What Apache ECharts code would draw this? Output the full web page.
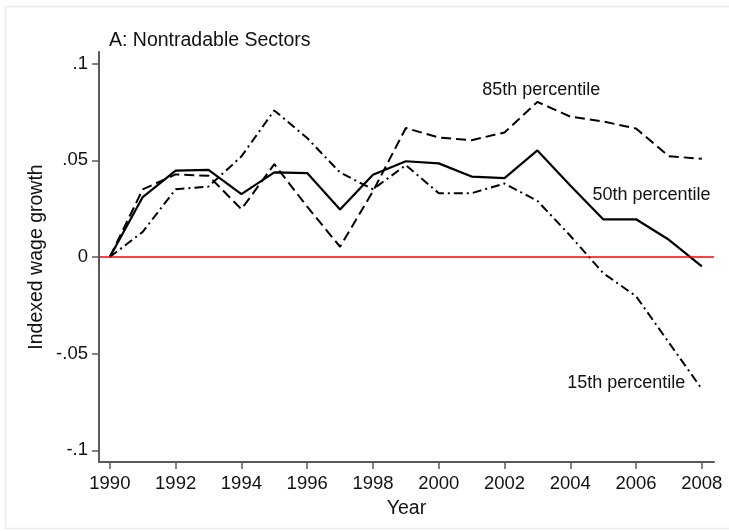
<!DOCTYPE html>
<html>
<head>
<meta charset="utf-8">
<script src="https://cdn.jsdelivr.net/npm/echarts@6/dist/echarts.min.js"></script>
<style>
  html, body { margin: 0; padding: 0; background: #fff; }
  #chart { width: 729px; height: 531px; }
</style>
</head>
<body>
<div id="chart"></div>
<script>
  // 数据
  var years = [1990, 1991, 1992, 1993, 1994, 1995, 1996, 1997, 1998, 1999,
               2000, 2001, 2002, 2003, 2004, 2005, 2006, 2007, 2008]
  var p85 = [0, 0.035, 0.0427, 0.042, 0.0247, 0.048, 0.026, 0.0053, 0.034, 0.0667,
             0.0618, 0.0604, 0.0644, 0.0802, 0.0726, 0.0701, 0.0664, 0.0521, 0.0508]
  var p50 = [0, 0.031, 0.0447, 0.045, 0.0325, 0.0438, 0.0434, 0.0246, 0.0425, 0.0495,
             0.0484, 0.0416, 0.0408, 0.0551, 0.037, 0.0195, 0.0195, 0.0089, -0.0048]
  var p15 = [0, 0.013, 0.035, 0.0364, 0.052, 0.0758, 0.0615, 0.0437, 0.035, 0.0475,
             0.033, 0.033, 0.038, 0.029, 0.011, -0.0083, -0.0203, -0.0443, -0.0683]
  var xTicks = [1990, 1992, 1994, 1996, 1998, 2000, 2002, 2004, 2006, 2008]
  var yTicks = [-0.1, -0.05, 0, 0.05, 0.1]
  var yTickText = { '-0.1': '-.1', '-0.05': '-.05', '0': '0', '0.05': '.05', '0.1': '.1' }
  var seriesNames = ['85th percentile', '50th percentile', '15th percentile']
  // 标注文字所在的数据坐标
  var labelAt = [[2003.12, 0.0865], [2006.47, 0.0321], [2005.7, -0.0653]]

  var FONT = '"Liberation Sans", Arial, sans-serif'
  var INK = '#111'
  var AXIS = '#5a5a5a'

  function pairs(vals) {
    var out = []
    for (var i = 0; i < years.length; i++) out.push([years[i], vals[i]])
    return out
  }

  function tag(i) {
    return {
      symbol: 'circle',
      symbolSize: 0,
      silent: true,
      label: {
        show: true,
        position: 'inside',
        formatter: seriesNames[i],
        color: INK,
        fontFamily: FONT,
        fontSize: 18
      },
      data: [{ coord: labelAt[i] }]
    }
  }

  var chart = echarts.init(document.getElementById('chart'), null, { renderer: 'canvas' })

  var option = {
    backgroundColor: '#fff',
    animation: false,
    textStyle: { fontFamily: FONT },
    graphic: [
      {
        type: 'rect',
        silent: true,
        shape: { x: 5.5, y: 6.5, width: 800, height: 522 },
        style: { fill: 'none', stroke: '#ebebeb', lineWidth: 1.5 }
      }
    ],
    title: {
      text: 'A: Nontradable Sectors',
      left: 104,
      top: 26,
      textStyle: { color: INK, fontFamily: FONT, fontSize: 19.5, fontWeight: 'normal' }
    },
    grid: { left: 99, right: 15, top: 52, bottom: 69 },
    xAxis: {
      type: 'value',
      min: 1989.67,
      max: 2008.37,
      name: 'Year',
      nameLocation: 'middle',
      nameGap: 37,
      nameMoveOverlap: false,
      nameTextStyle: { color: INK, fontFamily: FONT, fontSize: 19.5 },
      splitLine: { show: false },
      axisLine: { onZero: false, lineStyle: { color: AXIS, width: 2 } },
      axisTick: { show: true, length: 7, lineStyle: { color: AXIS, width: 1.5 }, customValues: xTicks },
      axisLabel: {
        color: INK, fontFamily: FONT, fontSize: 18.5, margin: 12,
        customValues: xTicks,
        formatter: function (v) { return String(v) }
      }
    },
    yAxis: {
      type: 'value',
      min: -0.106,
      max: 0.106,
      name: 'Indexed wage growth',
      nameLocation: 'middle',
      nameGap: 52,
      nameMoveOverlap: false,
      nameTextStyle: { color: INK, fontFamily: FONT, fontSize: 19.5 },
      splitLine: { show: false },
      axisLine: { show: true, onZero: false, lineStyle: { color: AXIS, width: 2 } },
      axisTick: { show: true, length: 7, lineStyle: { color: AXIS, width: 1.5 }, customValues: yTicks },
      axisLabel: {
        color: INK, fontFamily: FONT, fontSize: 18.5, margin: 11,
        customValues: yTicks,
        formatter: function (v) {
          var k = String(Math.round(v * 100) / 100)
          return yTickText[k] !== undefined ? yTickText[k] : k
        }
      }
    },
    series: [
      {
        name: seriesNames[0],
        type: 'line',
        data: pairs(p85),
        showSymbol: false,
        lineStyle: { color: '#000', width: 2, type: [10, 5] },
        markPoint: tag(0),
        markLine: {
          silent: true,
          symbol: 'none',
          label: { show: false },
          lineStyle: { color: '#ff0000', width: 1.5, type: 'solid' },
          data: [{ yAxis: 0 }]
        },
        z: 3
      },
      {
        name: seriesNames[1],
        type: 'line',
        data: pairs(p50),
        showSymbol: false,
        lineStyle: { color: '#000', width: 2.2, type: 'solid' },
        markPoint: tag(1),
        z: 3
      },
      {
        name: seriesNames[2],
        type: 'line',
        data: pairs(p15),
        showSymbol: false,
        lineStyle: { color: '#000', width: 2, type: [9, 4, 2, 4] },
        markPoint: tag(2),
        z: 3
      }
    ]
  }
  chart.setOption(option)
</script>
</body>
</html>
